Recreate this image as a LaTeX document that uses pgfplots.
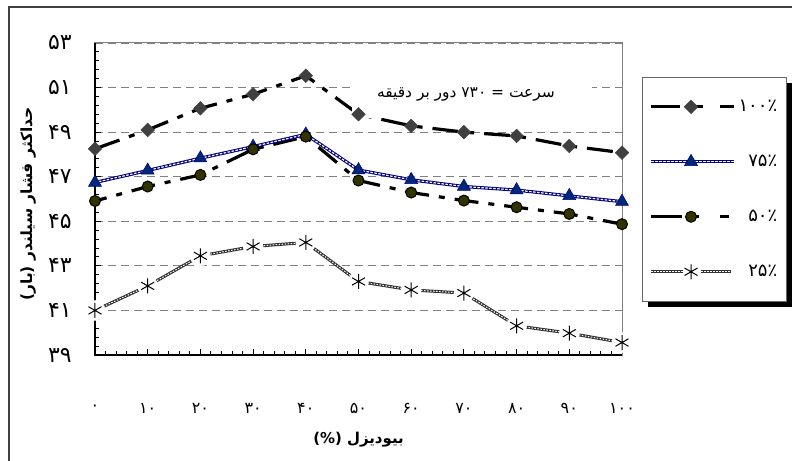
\documentclass[border=0pt]{standalone}
\usepackage{fontspec}
\usepackage{pgfplots}
\usepackage{pgfplotstable}
\pgfplotsset{compat=1.18}
\TeXXeTstate=1
\setmainfont{DejaVu Sans}
\newfontfamily\arabicfont[Script=Arabic]{DejaVu Sans}
\definecolor{diam}{RGB}{64,64,64}
\definecolor{navyb}{RGB}{0,0,128}
\definecolor{tri}{RGB}{0,40,120}
\definecolor{olivec}{RGB}{51,51,0}
\definecolor{gridc}{RGB}{128,128,128}
\definecolor{tex25}{RGB}{50,50,50}

\pgfplotstableread{
x y100 y75 y50 y25
0 48.25 46.74 45.91 41.00
10 49.10 47.28 46.56 42.10
20 50.07 47.83 47.08 43.45
30 50.70 48.35 48.23 43.87
40 51.53 48.90 48.80 44.05
50 49.80 47.30 46.83 42.30
60 49.28 46.86 46.29 41.92
70 49.00 46.56 45.93 41.78
80 48.83 46.40 45.63 40.31
90 48.38 46.14 45.33 39.98
100 48.08 45.88 44.87 39.56
}\data

\begin{document}
\begin{tikzpicture}
\useasboundingbox (-95bp,-106bp) rectangle (697bp,355bp);
\draw[line width=1.5bp, black!75] (-86bp,-120bp) -- (-86bp,348bp) -- (720bp,348bp);
% legend shadow
\fill[black] (553bp,48bp) rectangle (697bp,272bp);
\begin{axis}[
  at={(0,0)}, anchor=south west,
  width=527bp, height=312bp, scale only axis,
  xmin=0, xmax=100, ymin=39, ymax=53,
  clip=false,
  xtick={0,10,...,100}, ytick={39,41,...,53},
  xticklabels={۰,۱۰,۲۰,۳۰,۴۰,۵۰,۶۰,۷۰,۸۰,۹۰,۱۰۰},
  yticklabels={۳۹,۴۱,۴۳,۴۵,۴۷,۴۹,۵۱,۵۳},
  xticklabel style={font=\arabicfont\fontsize{16}{18}\selectfont, anchor=center, yshift=-53bp},
  yticklabel style={font=\arabicfont\fontsize{22}{24}\selectfont, anchor=center, xshift=-35bp},
  minor x tick num=4, minor y tick num=4,
  tick align=inside, xtick pos=bottom, ytick pos=left,
  major tick length=6bp, minor tick length=4bp,
  every tick/.style={black, line width=1bp},
  axis line style={gridc, line width=1bp},
  ymajorgrids,
  major grid style={gridc, dash pattern=on 8bp off 5bp, line width=0.8bp},
  xlabel={\beginR بیودیزل (\%)\endR},
  xlabel style={font=\arabicfont\bfseries\fontsize{15}{18}\selectfont, at={(axis description cs:0.5,-0.272)}, anchor=center},
  ylabel={\beginR حداکثر فشار سیلندر (بار)\endR},
  ylabel style={font=\arabicfont\bfseries\fontsize{15.5}{18}\selectfont, at={(axis description cs:-0.127,0.484)}, anchor=center},
  legend style={at={(1.038,0.891)}, anchor=north west, draw=gray!80!black, line width=0.8bp, fill=white,
    inner xsep=7bp, inner ysep=21bp, row sep=38bp, column sep=1bp,
    font=\arabicfont\fontsize{18}{20}\selectfont},
  legend cell align=right,
]
\draw[black, line width=1.5bp] (rel axis cs:0,1) -- (rel axis cs:0,0) -- (rel axis cs:1,0);

% lines
\addplot[forget plot, black, line width=3.2bp, dash pattern=on 26bp off 10bp on 6bp off 10bp] table[x=x,y=y100]{\data};
\addplot[forget plot, black, line width=3.2bp, dash pattern=on 24bp off 10bp on 6bp off 10bp, dash phase=12bp] table[x=x,y=y50]{\data};
\addplot[forget plot, navyb, line width=3.2bp] table[x=x,y=y75]{\data};
\addplot[forget plot, white, line width=1.2bp, dash pattern=on 2.5bp off 1.5bp] table[x=x,y=y75]{\data};
\addplot[forget plot, tex25, line width=3bp] table[x=x,y=y25]{\data};
\addplot[forget plot, white, line width=1bp, dash pattern=on 1.5bp off 1.5bp] table[x=x,y=y25]{\data};
\addplot[forget plot, only marks, mark=*, mark size=10bp, mark options={draw=white, fill=white}] table[x=x,y=y25]{\data};

% marks with legend
\addplot[only marks, mark=square*, mark size=4.8bp, mark options={rotate=45, fill=diam, draw=diam, line width=0.5bp, solid},
  legend image code/.code={
    \draw[black, line width=3.2bp] (0bp,0bp) -- (29bp,0bp) (35bp,0bp) -- (52bp,0bp) (69bp,0bp) -- (83bp,0bp);
    \draw plot[only marks] coordinates {(40bp,0bp)};
  }] table[x=x,y=y100]{\data};
\addlegendentry{۱۰۰٪}
\addplot[only marks, mark=triangle*, mark size=7.5bp, mark options={fill=tri, draw=navyb, line width=0.5bp, solid},
  legend image code/.code={
    \draw[navyb, line width=3.2bp] (0bp,0bp) -- (83bp,0bp);
    \draw[white, line width=1.2bp, dash pattern=on 2.5bp off 1.5bp] (0bp,0bp) -- (83bp,0bp);
    \draw plot[only marks] coordinates {(40bp,0bp)};
  }] table[x=x,y=y75]{\data};
\addlegendentry{۷۵٪}
\addplot[only marks, mark=*, mark size=5.5bp, mark options={fill=olivec, draw=black, line width=1bp, solid},
  legend image code/.code={
    \draw[black, line width=3.2bp] (0bp,0bp) -- (31bp,0bp) (35bp,0bp) -- (48bp,0bp) (69bp,0bp) -- (78bp,0bp);
    \draw plot[only marks] coordinates {(40bp,0bp)};
  }] table[x=x,y=y50]{\data};
\addlegendentry{۵۰٪}
\addplot[only marks, mark=asterisk, mark size=7.5bp, mark options={draw=black, line width=1bp, solid},
  legend image code/.code={
    \draw[tex25, line width=3bp] (0bp,0bp) -- (32bp,0bp) (50bp,0bp) -- (80bp,0bp);
    \draw[white, line width=1bp, dash pattern=on 1.5bp off 1.5bp] (0bp,0bp) -- (32bp,0bp) (50bp,0bp) -- (80bp,0bp);
    \draw plot[only marks] coordinates {(40bp,0bp)};
  }] table[x=x,y=y25]{\data};
\addlegendentry{۲۵٪}

% annotation box (covers part of the 100% curve, as in the original)
\fill[white] (axis cs:48.8,51.43) rectangle (axis cs:94.3,49.63);
\node[font=\arabicfont\fontsize{15.5}{18}\selectfont] at (axis cs:70.4,50.67) {\beginR سرعت = ۷۳۰ دور بر دقیقه\endR};
\end{axis}
\end{tikzpicture}
\end{document}
